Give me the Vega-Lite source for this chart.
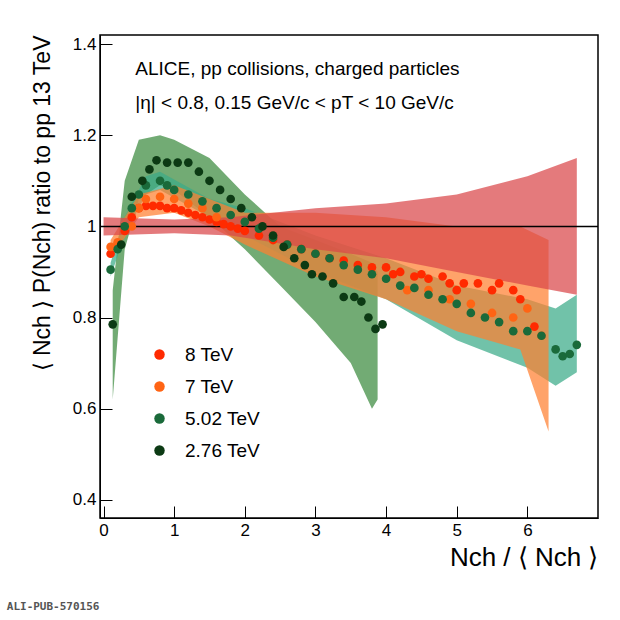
{
  "$schema": "https://vega.github.io/schema/vega-lite/v6.json",
  "width": 498,
  "height": 483,
  "autosize": "none",
  "padding": {"left": 100, "top": 35, "right": 22, "bottom": 102},
  "config": {
    "view": {"stroke": "black", "strokeWidth": 1.5},
    "font": "Liberation Sans",
    "axis": {"grid": false, "domainColor": "black", "tickColor": "black", "labelColor": "black", "titleColor": "black", "labelFontSize": 17, "labelFont": "Liberation Sans", "titleFont": "Liberation Sans", "titleFontWeight": "normal", "tickSize": -12, "labelPadding": 16}
  },
  "datasets": {
    "bands": [
      {"s": "2.76 TeV", "x": 0.13, "lo": 0.62, "hi": 0.86},
      {"s": "2.76 TeV", "x": 0.3, "lo": 0.95, "hi": 1.1},
      {"s": "2.76 TeV", "x": 0.5, "lo": 1.06, "hi": 1.19},
      {"s": "2.76 TeV", "x": 0.8, "lo": 1.09, "hi": 1.2},
      {"s": "2.76 TeV", "x": 1.0, "lo": 1.08, "hi": 1.19},
      {"s": "2.76 TeV", "x": 1.5, "lo": 1.02, "hi": 1.15},
      {"s": "2.76 TeV", "x": 2.0, "lo": 0.95, "hi": 1.07},
      {"s": "2.76 TeV", "x": 2.5, "lo": 0.87, "hi": 1.0},
      {"s": "2.76 TeV", "x": 3.0, "lo": 0.79, "hi": 0.97},
      {"s": "2.76 TeV", "x": 3.5, "lo": 0.7, "hi": 0.94},
      {"s": "2.76 TeV", "x": 3.8, "lo": 0.6, "hi": 0.92},
      {"s": "2.76 TeV", "x": 3.88, "lo": 0.62, "hi": 0.9},
      {"s": "5.02 TeV", "x": 0.1, "lo": 0.89, "hi": 0.92},
      {"s": "5.02 TeV", "x": 0.3, "lo": 0.98, "hi": 1.02},
      {"s": "5.02 TeV", "x": 0.6, "lo": 1.07, "hi": 1.11},
      {"s": "5.02 TeV", "x": 0.8, "lo": 1.08, "hi": 1.12},
      {"s": "5.02 TeV", "x": 1.5, "lo": 1.02, "hi": 1.06},
      {"s": "5.02 TeV", "x": 2.0, "lo": 0.98, "hi": 1.04},
      {"s": "5.02 TeV", "x": 3.0, "lo": 0.9, "hi": 0.98},
      {"s": "5.02 TeV", "x": 4.0, "lo": 0.84, "hi": 0.93},
      {"s": "5.02 TeV", "x": 5.0, "lo": 0.75, "hi": 0.87},
      {"s": "5.02 TeV", "x": 6.0, "lo": 0.69, "hi": 0.84},
      {"s": "5.02 TeV", "x": 6.4, "lo": 0.65, "hi": 0.82},
      {"s": "5.02 TeV", "x": 6.7, "lo": 0.68, "hi": 0.85},
      {"s": "7 TeV", "x": 0.1, "lo": 0.93, "hi": 0.97},
      {"s": "7 TeV", "x": 0.5, "lo": 1.02, "hi": 1.07},
      {"s": "7 TeV", "x": 1.0, "lo": 1.03, "hi": 1.09},
      {"s": "7 TeV", "x": 1.5, "lo": 1.0, "hi": 1.06},
      {"s": "7 TeV", "x": 2.0, "lo": 0.96, "hi": 1.03},
      {"s": "7 TeV", "x": 3.0, "lo": 0.89, "hi": 1.03},
      {"s": "7 TeV", "x": 4.0, "lo": 0.84, "hi": 1.02},
      {"s": "7 TeV", "x": 5.0, "lo": 0.77, "hi": 1.0},
      {"s": "7 TeV", "x": 5.9, "lo": 0.73, "hi": 1.0},
      {"s": "7 TeV", "x": 6.3, "lo": 0.55, "hi": 0.97},
      {"s": "8 TeV", "x": 0.0, "lo": 0.98, "hi": 1.02},
      {"s": "8 TeV", "x": 1.0, "lo": 0.985, "hi": 1.015},
      {"s": "8 TeV", "x": 1.8, "lo": 0.98, "hi": 1.02},
      {"s": "8 TeV", "x": 3.0, "lo": 0.95, "hi": 1.04},
      {"s": "8 TeV", "x": 4.0, "lo": 0.93, "hi": 1.05},
      {"s": "8 TeV", "x": 5.0, "lo": 0.9, "hi": 1.07},
      {"s": "8 TeV", "x": 6.0, "lo": 0.87, "hi": 1.11},
      {"s": "8 TeV", "x": 6.7, "lo": 0.85, "hi": 1.15}
    ],
    "points": [
      {"s": "8 TeV", "x": 0.1, "v": 0.94}, {"s": "8 TeV", "x": 0.2, "v": 0.96}, {"s": "8 TeV", "x": 0.3, "v": 0.99}, {"s": "8 TeV", "x": 0.4, "v": 1.02},
      {"s": "8 TeV", "x": 0.5, "v": 1.04}, {"s": "8 TeV", "x": 0.6, "v": 1.045}, {"s": "8 TeV", "x": 0.7, "v": 1.045}, {"s": "8 TeV", "x": 0.8, "v": 1.045},
      {"s": "8 TeV", "x": 0.9, "v": 1.04}, {"s": "8 TeV", "x": 1.0, "v": 1.04}, {"s": "8 TeV", "x": 1.1, "v": 1.035}, {"s": "8 TeV", "x": 1.2, "v": 1.03},
      {"s": "8 TeV", "x": 1.3, "v": 1.025}, {"s": "8 TeV", "x": 1.4, "v": 1.02}, {"s": "8 TeV", "x": 1.5, "v": 1.015}, {"s": "8 TeV", "x": 1.6, "v": 1.01},
      {"s": "8 TeV", "x": 1.7, "v": 1.005}, {"s": "8 TeV", "x": 1.8, "v": 1.0}, {"s": "8 TeV", "x": 1.9, "v": 0.995}, {"s": "8 TeV", "x": 2.0, "v": 0.99},
      {"s": "8 TeV", "x": 2.2, "v": 0.98}, {"s": "8 TeV", "x": 2.4, "v": 0.97}, {"s": "8 TeV", "x": 2.6, "v": 0.96}, {"s": "8 TeV", "x": 2.8, "v": 0.95},
      {"s": "8 TeV", "x": 3.0, "v": 0.94}, {"s": "8 TeV", "x": 3.2, "v": 0.93}, {"s": "8 TeV", "x": 3.4, "v": 0.925}, {"s": "8 TeV", "x": 3.6, "v": 0.915},
      {"s": "8 TeV", "x": 3.8, "v": 0.91}, {"s": "8 TeV", "x": 4.0, "v": 0.91}, {"s": "8 TeV", "x": 4.1, "v": 0.895}, {"s": "8 TeV", "x": 4.2, "v": 0.9},
      {"s": "8 TeV", "x": 4.4, "v": 0.89}, {"s": "8 TeV", "x": 4.5, "v": 0.895}, {"s": "8 TeV", "x": 4.6, "v": 0.885}, {"s": "8 TeV", "x": 4.8, "v": 0.89},
      {"s": "8 TeV", "x": 4.9, "v": 0.875}, {"s": "8 TeV", "x": 5.0, "v": 0.86}, {"s": "8 TeV", "x": 5.1, "v": 0.875}, {"s": "8 TeV", "x": 5.3, "v": 0.875},
      {"s": "8 TeV", "x": 5.5, "v": 0.86}, {"s": "8 TeV", "x": 5.6, "v": 0.875}, {"s": "8 TeV", "x": 5.8, "v": 0.86}, {"s": "8 TeV", "x": 5.9, "v": 0.84},
      {"s": "8 TeV", "x": 6.1, "v": 0.78},
      {"s": "7 TeV", "x": 0.1, "v": 0.955}, {"s": "7 TeV", "x": 0.2, "v": 0.965}, {"s": "7 TeV", "x": 0.4, "v": 1.0}, {"s": "7 TeV", "x": 0.5, "v": 1.04},
      {"s": "7 TeV", "x": 0.6, "v": 1.06}, {"s": "7 TeV", "x": 0.8, "v": 1.065}, {"s": "7 TeV", "x": 1.0, "v": 1.06}, {"s": "7 TeV", "x": 1.2, "v": 1.05},
      {"s": "7 TeV", "x": 1.4, "v": 1.04}, {"s": "7 TeV", "x": 1.6, "v": 1.02}, {"s": "7 TeV", "x": 4.3, "v": 0.86}, {"s": "7 TeV", "x": 4.6, "v": 0.86},
      {"s": "7 TeV", "x": 4.9, "v": 0.84}, {"s": "7 TeV", "x": 5.2, "v": 0.83}, {"s": "7 TeV", "x": 5.5, "v": 0.81}, {"s": "7 TeV", "x": 5.8, "v": 0.8},
      {"s": "7 TeV", "x": 6.0, "v": 0.82}, {"s": "7 TeV", "x": 6.2, "v": 0.76},
      {"s": "5.02 TeV", "x": 0.1, "v": 0.905}, {"s": "5.02 TeV", "x": 0.2, "v": 0.95}, {"s": "5.02 TeV", "x": 0.3, "v": 1.0}, {"s": "5.02 TeV", "x": 0.4, "v": 1.04},
      {"s": "5.02 TeV", "x": 0.5, "v": 1.07}, {"s": "5.02 TeV", "x": 0.6, "v": 1.09}, {"s": "5.02 TeV", "x": 0.8, "v": 1.1}, {"s": "5.02 TeV", "x": 0.9, "v": 1.09},
      {"s": "5.02 TeV", "x": 1.0, "v": 1.08}, {"s": "5.02 TeV", "x": 1.2, "v": 1.07}, {"s": "5.02 TeV", "x": 1.4, "v": 1.055}, {"s": "5.02 TeV", "x": 1.6, "v": 1.04},
      {"s": "5.02 TeV", "x": 1.8, "v": 1.025}, {"s": "5.02 TeV", "x": 2.0, "v": 1.01}, {"s": "5.02 TeV", "x": 2.2, "v": 0.995}, {"s": "5.02 TeV", "x": 2.4, "v": 0.975},
      {"s": "5.02 TeV", "x": 2.6, "v": 0.96}, {"s": "5.02 TeV", "x": 2.8, "v": 0.95}, {"s": "5.02 TeV", "x": 3.0, "v": 0.94}, {"s": "5.02 TeV", "x": 3.2, "v": 0.93},
      {"s": "5.02 TeV", "x": 3.4, "v": 0.915}, {"s": "5.02 TeV", "x": 3.6, "v": 0.905}, {"s": "5.02 TeV", "x": 3.8, "v": 0.895}, {"s": "5.02 TeV", "x": 4.0, "v": 0.885},
      {"s": "5.02 TeV", "x": 4.2, "v": 0.87}, {"s": "5.02 TeV", "x": 4.4, "v": 0.865}, {"s": "5.02 TeV", "x": 4.6, "v": 0.85}, {"s": "5.02 TeV", "x": 4.8, "v": 0.84},
      {"s": "5.02 TeV", "x": 5.0, "v": 0.83}, {"s": "5.02 TeV", "x": 5.2, "v": 0.81}, {"s": "5.02 TeV", "x": 5.4, "v": 0.8}, {"s": "5.02 TeV", "x": 5.6, "v": 0.79},
      {"s": "5.02 TeV", "x": 5.8, "v": 0.77}, {"s": "5.02 TeV", "x": 6.0, "v": 0.77}, {"s": "5.02 TeV", "x": 6.2, "v": 0.76}, {"s": "5.02 TeV", "x": 6.4, "v": 0.73},
      {"s": "5.02 TeV", "x": 6.5, "v": 0.715}, {"s": "5.02 TeV", "x": 6.6, "v": 0.72}, {"s": "5.02 TeV", "x": 6.7, "v": 0.74},
      {"s": "2.76 TeV", "x": 0.13, "v": 0.785}, {"s": "2.76 TeV", "x": 0.25, "v": 0.96}, {"s": "2.76 TeV", "x": 0.4, "v": 1.065}, {"s": "2.76 TeV", "x": 0.55, "v": 1.1},
      {"s": "2.76 TeV", "x": 0.65, "v": 1.125}, {"s": "2.76 TeV", "x": 0.75, "v": 1.145}, {"s": "2.76 TeV", "x": 0.9, "v": 1.14}, {"s": "2.76 TeV", "x": 1.05, "v": 1.14},
      {"s": "2.76 TeV", "x": 1.2, "v": 1.14}, {"s": "2.76 TeV", "x": 1.35, "v": 1.12}, {"s": "2.76 TeV", "x": 1.5, "v": 1.1}, {"s": "2.76 TeV", "x": 1.65, "v": 1.08},
      {"s": "2.76 TeV", "x": 1.8, "v": 1.06}, {"s": "2.76 TeV", "x": 1.95, "v": 1.04}, {"s": "2.76 TeV", "x": 2.1, "v": 1.02}, {"s": "2.76 TeV", "x": 2.25, "v": 1.0},
      {"s": "2.76 TeV", "x": 2.4, "v": 0.98}, {"s": "2.76 TeV", "x": 2.55, "v": 0.955}, {"s": "2.76 TeV", "x": 2.7, "v": 0.93}, {"s": "2.76 TeV", "x": 2.85, "v": 0.915},
      {"s": "2.76 TeV", "x": 2.95, "v": 0.895}, {"s": "2.76 TeV", "x": 3.1, "v": 0.89}, {"s": "2.76 TeV", "x": 3.25, "v": 0.875}, {"s": "2.76 TeV", "x": 3.4, "v": 0.845},
      {"s": "2.76 TeV", "x": 3.55, "v": 0.845}, {"s": "2.76 TeV", "x": 3.65, "v": 0.835}, {"s": "2.76 TeV", "x": 3.75, "v": 0.8}, {"s": "2.76 TeV", "x": 3.85, "v": 0.775},
      {"s": "2.76 TeV", "x": 3.95, "v": 0.785}
    ]
  },
  "layer": [
    {
      "data": {"name": "bands"},
      "mark": {"type": "area", "opacity": 0.72},
      "encoding": {
        "x": {"field": "x", "type": "quantitative", "scale": {"domain": [-0.05, 7.0], "nice": false}, "axis": {"values": [0, 1, 2, 3, 4, 5, 6], "format": "d", "title": "Nch / ⟨ Nch ⟩", "titleFontSize": 26, "titleAnchor": "end", "titlePadding": 6}},
        "y": {"field": "lo", "type": "quantitative", "scale": {"domain": [0.36, 1.42], "nice": false, "zero": false}, "axis": {"values": [0.4, 0.6, 0.8, 1.0, 1.2, 1.4], "format": ".1~f", "title": "⟨ Nch ⟩ P(Nch) ratio to pp 13 TeV", "titleFontSize": 23, "titleAnchor": "end", "titlePadding": 18}},
        "y2": {"field": "hi"},
        "fill": {"field": "s", "type": "nominal", "legend": null, "scale": {"domain": ["2.76 TeV", "5.02 TeV", "7 TeV", "8 TeV"], "range": ["#3c8a3e", "#3aaa88", "#ff8030", "#d9474a"]}},
        "order": {"field": "s"}
      }
    },
    {
      "data": {"values": [{"y": 1}]},
      "mark": {"type": "rule", "color": "black", "strokeWidth": 1.5},
      "encoding": {"y": {"datum": 1}}
    },
    {
      "data": {"name": "points"},
      "mark": {"type": "point", "filled": true, "opacity": 1, "size": 75},
      "encoding": {
        "x": {"field": "x", "type": "quantitative"},
        "y": {"field": "v", "type": "quantitative"},
        "color": {"field": "s", "type": "nominal", "sort": ["8 TeV", "7 TeV", "5.02 TeV", "2.76 TeV"], "scale": {"domain": ["8 TeV", "7 TeV", "5.02 TeV", "2.76 TeV"], "range": ["#ff2a00", "#ff6414", "#1a6a3a", "#0c3a14"]},
          "legend": {"title": null, "orient": "none", "legendX": 50, "legendY": 310, "labelFontSize": 19, "labelColor": "black", "symbolSize": 110, "rowPadding": 12, "labelOffset": 16}}
      }
    },
    {
      "data": {"values": [
        {"t": "ALICE, pp collisions, charged particles", "x": 0.45, "y": 1.345},
        {"t": "|η| < 0.8, 0.15 GeV/c < pT < 10 GeV/c", "x": 0.45, "y": 1.27}
      ]},
      "mark": {"type": "text", "align": "left", "fontSize": 19, "color": "black"},
      "encoding": {"x": {"field": "x", "type": "quantitative"}, "y": {"field": "y", "type": "quantitative"}, "text": {"field": "t"}}
    },
    {
      "data": {"values": [{"t": "ALI-PUB-570156", "x": -1.37, "y": 0.165}]},
      "mark": {"type": "text", "align": "left", "fontSize": 11, "font": "DejaVu Sans Mono", "fontWeight": "bold", "color": "#555", "clip": false},
      "encoding": {"x": {"field": "x", "type": "quantitative"}, "y": {"field": "y", "type": "quantitative"}, "text": {"field": "t"}}
    }
  ]
}
